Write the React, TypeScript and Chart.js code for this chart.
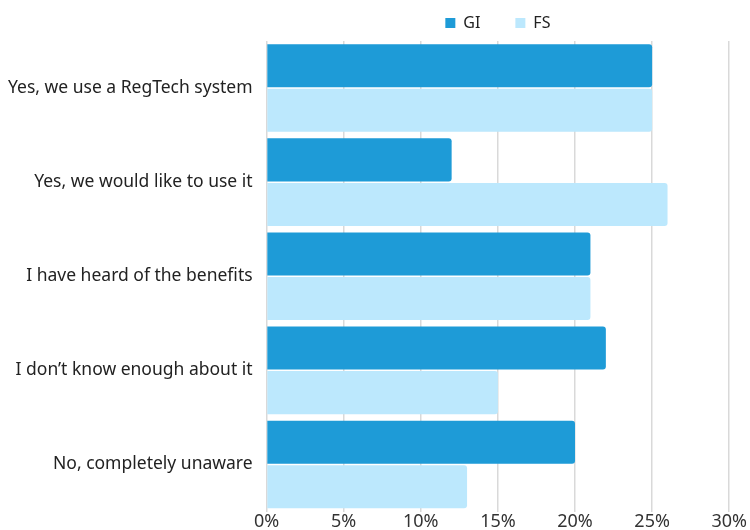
import React, { useEffect, useRef } from "react";
import { Chart, registerables } from "chart.js";

Chart.register(...registerables);

const categories = [
  "Yes, we use a RegTech system",
  "Yes, we would like to use it",
  "I have heard of the benefits",
  "I don\u2019t know enough about it",
  "No, completely unaware",
];
const giValues = [25, 12, 21, 22, 20];
const fsValues = [25, 26, 21, 15, 13];
const seriesNames = ["GI", "FS"];

const FONT = "'Noto Sans', sans-serif";

export default function App() {
  const ref = useRef<HTMLCanvasElement | null>(null);
  useEffect(() => {
    if (!ref.current) return;
    const barStyle = {
      borderRadius: { topRight: 3, bottomRight: 3, topLeft: 0, bottomLeft: 0 },
      borderSkipped: false,
      categoryPercentage: 0.947,
      barPercentage: 0.966,
    };
    const chart = new Chart(ref.current, {
      type: "bar",
      data: {
        labels: categories,
        datasets: [
          { label: seriesNames[0], data: giValues, backgroundColor: "#1E9BD7", ...barStyle },
          { label: seriesNames[1], data: fsValues, backgroundColor: "#BCE8FD", ...barStyle },
        ],
      },
      options: {
        indexAxis: "y",
        animation: false,
        responsive: true,
        maintainAspectRatio: false,
        layout: { padding: { top: 5, left: -6, right: 0, bottom: 0 } },
        plugins: {
          legend: {
            position: "top",
            fullSize: false,
            labels: {
              boxWidth: 10,
              boxHeight: 10,
              padding: 10,
              color: "#222",
              font: { family: FONT, size: 16 },
              generateLabels: (c: any) => {
                const items = Chart.defaults.plugins.legend.labels.generateLabels(c);
                return items.map((it: any, i: number) =>
                  i < items.length - 1 ? { ...it, text: it.text + "      " } : it
                );
              },
            },
          },
          tooltip: { enabled: false },
        },
        scales: {
          x: {
            min: 0,
            max: 30,
            ticks: {
              stepSize: 5,
              color: "#333",
              padding: 0,
              font: { family: FONT, size: 18 },
              callback: (v: any) => v + "%",
            },
            grid: { color: "#d9d9d9", lineWidth: 1.5, drawTicks: false },
            border: { display: false },
          },
          y: {
            ticks: {
              color: "#222",
              padding: 14,
              font: { family: FONT, size: 17.5 },
            },
            grid: { display: false, drawTicks: false },
            border: { display: false },
          },
        },
      },
    });
    return () => chart.destroy();
  }, []);
  return (
    <div style={{ position: "absolute", left: 0, top: 0, width: 747, height: 536 }}>
      <canvas ref={ref} />
    </div>
  );
}
